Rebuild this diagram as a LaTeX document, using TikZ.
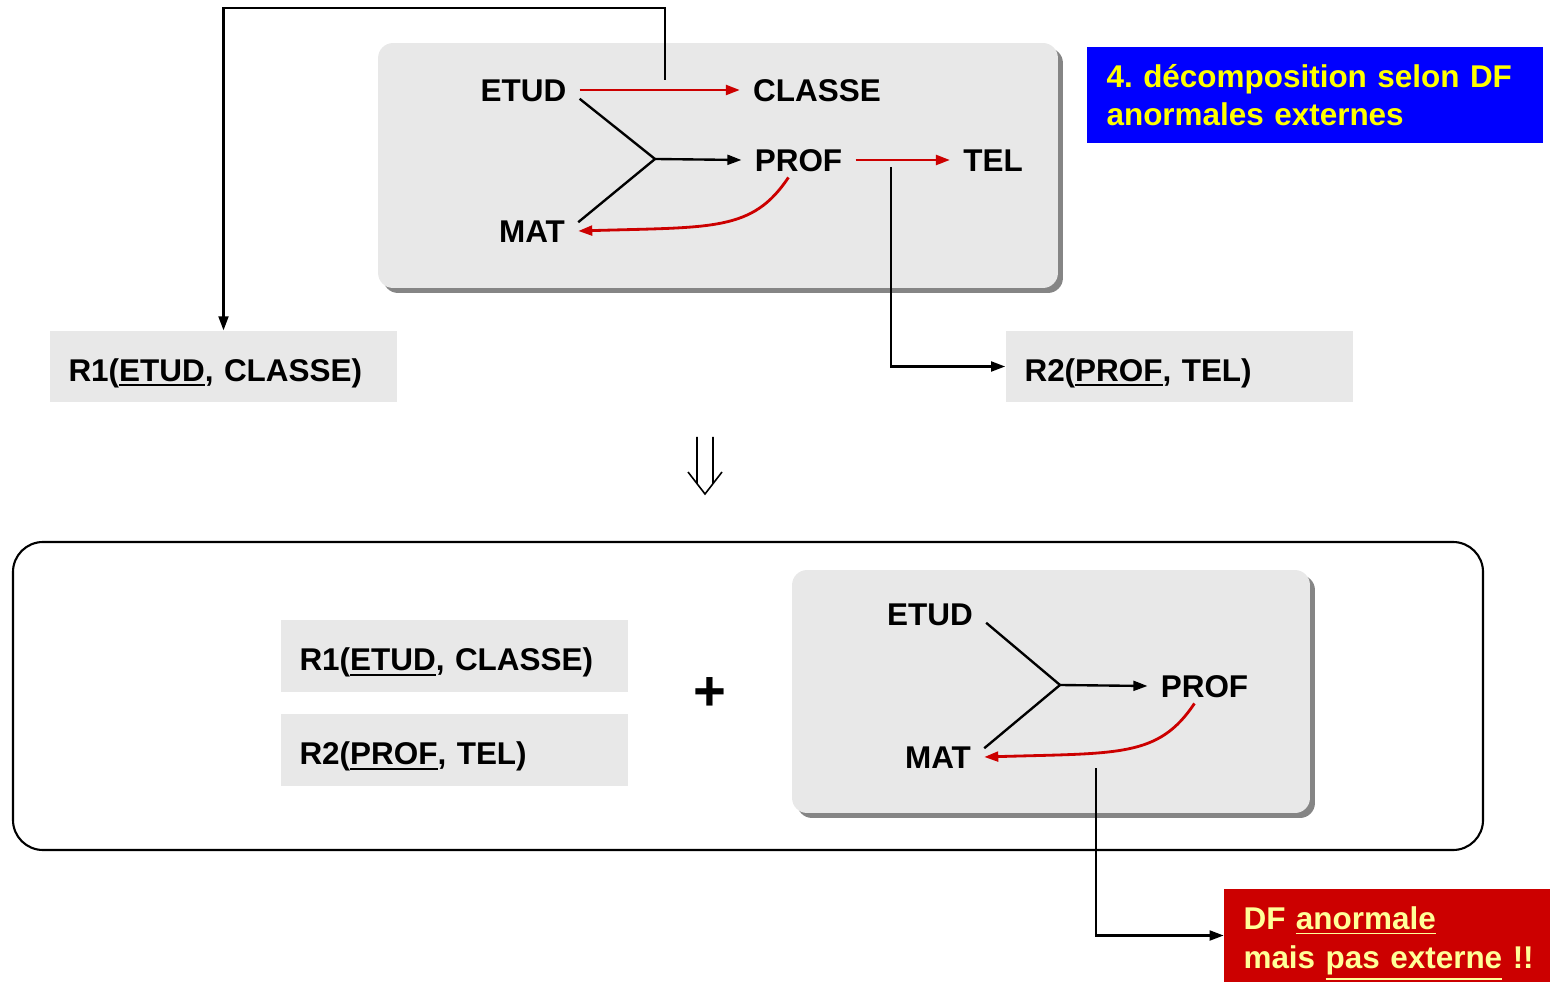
\documentclass[tikz,border=0pt]{standalone}
\usepackage{fontspec}
\setmainfont{Liberation Sans}
\usetikzlibrary{arrows.meta,shadows}

\definecolor{panelgray}{HTML}{E8E8E8}
\definecolor{shadegray}{HTML}{858585}
\definecolor{fdred}{HTML}{CC0000}
\definecolor{titleblue}{HTML}{0000FF}
\definecolor{titleyellow}{HTML}{FFFF00}
\definecolor{notelight}{HTML}{FFFF99}

% cle soulignee
\newcommand\keyattr[1]{\vtop{\hbox{#1}\kern1.6pt\hrule height 1.1pt}}

\begin{document}
\begin{tikzpicture}[x=0.02cm, y=-0.02cm, >={Triangle[length=8pt,width=5.6pt]},
  every node/.style={font=\fontsize{17.9}{21.5}\selectfont\bfseries},
  attr/.style={inner xsep=0.26cm, text height=12.8pt, text depth=0pt},
  fd/.style={->, line width=1.35pt},
  badfd/.style={->, line width=1.6pt, fdred},
  link/.style={->, line width=1.35pt},
  panel/.style={fill=panelgray, rounded corners=0.3cm,
    drop shadow={shadow xshift=0.1cm, shadow yshift=-0.1cm, fill=shadegray, opacity=1}},
  relbox/.style={fill=panelgray, inner xsep=0.38cm, inner ysep=0pt, text width=6.2cm,
    align=left, minimum height=1.43cm, text height=16.8pt, text depth=0pt},
  note/.style={inner xsep=0.39cm, inner ysep=0pt, align=left}]
  \useasboundingbox (0,0) rectangle (1550,982);

  % DF de depart
  \node[panel, minimum width=13.6cm, minimum height=4.9cm] (haut) at (718,165.5) {};
  \node[attr] (etud) at (523.5,90) {ETUD};
  \node[attr] (classe) at (817,90) {CLASSE};
  \node[attr] (prof) at (798.5,160) {PROF};
  \node[attr] (tel) at (993,160) {TEL};
  \node[attr] (mat) at (532,231) {MAT};
  \coordinate (j1) at (655,159);
  \draw[line width=1.35pt] ([yshift=-5pt]etud.east) -- (j1) -- ([yshift=5pt]mat.east);
  \draw[fd] (j1) -- (prof.west);
  \draw[badfd] (etud.east) -- (classe.west);
  \draw[badfd] (prof.east) -- (tel.west);
  \draw[badfd] (prof.240) .. controls +(-36,54) and +(135,-4) .. (mat.east);

  \node[note, fill=titleblue, text=titleyellow, text width=8.34cm, minimum height=1.92cm]
    (titre) at (1315,95) {4.\ décomposition selon DF\\anormales externes};

  % relations obtenues
  \node[relbox] (r1) at (223.5,366.5) {R1(\keyattr{ETUD}, CLASSE)};
  \node[relbox] (r2) at (1179.5,366.5) {R2(\keyattr{PROF}, TEL)};
  \coordinate (k1) at (665,80);
  \draw[link] (k1) -- ++(0,-72) -| (r1.north);
  \coordinate (k2) at (891,167);
  \draw[link] (k2) |- (r2.west);

  \draw[line width=0.9pt] (697,437) -- (697,484) (713,437) -- (713,484)
    (688,472) -- (705,494) -- (722,472);

  % resultat
  \draw[line width=1.2pt, rounded corners=0.6cm] (13,542) rectangle (1483,850);
  \node[relbox, minimum height=1.44cm] (r1b) at (454.5,656) {R1(\keyattr{ETUD}, CLASSE)};
  \node[relbox, minimum height=1.44cm] (r2b) at (454.5,750) {R2(\keyattr{PROF}, TEL)};
  \node[font=\fontsize{32}{38}\selectfont\bfseries] (plus) at (710,694) {+};

  \node[panel, minimum width=10.36cm, minimum height=4.86cm] (bas) at (1051,691.5) {};
  \node[attr] (etud2) at (930,614) {ETUD};
  \node[attr] (prof2) at (1204.5,686) {PROF};
  \node[attr] (mat2) at (938,757) {MAT};
  \coordinate (j2) at (1060,685);
  \draw[line width=1.35pt] ([yshift=-5pt]etud2.east) -- (j2) -- ([yshift=5pt]mat2.east);
  \draw[fd] (j2) -- (prof2.west);
  \draw[badfd] (prof2.240) .. controls +(-36,54) and +(135,-4) .. (mat2.east);

  \node[note, fill=fdred, text=notelight, text width=6.2cm, minimum height=1.86cm,
    font=\fontsize{17.9}{22.5}\selectfont\bfseries] (alerte) at (1398.5,935.5)
    {\rule{0pt}{22pt}DF \keyattr{anormale}\\mais \keyattr{pas externe} !!};
  \coordinate (k3) at (1096,768);
  \draw[link] (k3) |- (alerte.west);
\end{tikzpicture}
\end{document}
